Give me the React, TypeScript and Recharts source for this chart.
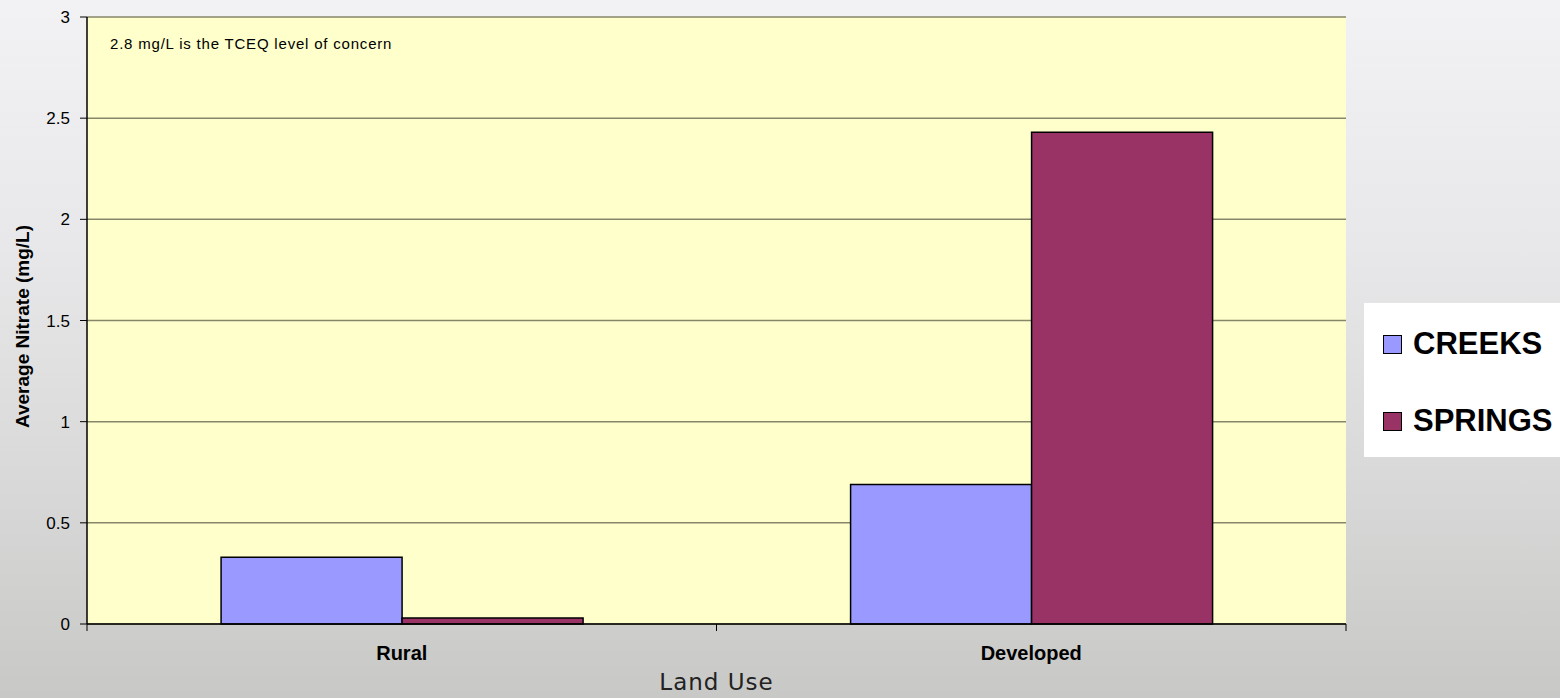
import React from 'react';
import { BarChart, Bar, XAxis, YAxis, CartesianGrid } from 'recharts';

const categories = ['Rural', 'Developed'];
const creeks = [0.33, 0.69];
const springs = [0.03, 2.43];
const yTicks = [0, 0.5, 1, 1.5, 2, 2.5, 3];
const seriesNames = ['CREEKS', 'SPRINGS'];
const seriesColors = ['#9999FF', '#993366'];
const note = '2.8 mg/L is the TCEQ level of concern';
const yTitle = 'Average Nitrate (mg/L)';
const xTitle = 'Land Use';

const data = categories.map((c, i) => ({ name: c, creeks: creeks[i], springs: springs[i] }));

const FONT = '"Liberation Sans", Arial, sans-serif';

const XTick = (props: any) => {
  const { x, y, payload, width, visibleTicksCount } = props;
  const off = payload && payload.offset ? payload.offset : width / ((visibleTicksCount || 1) * 2);
  return (
    <g>
      <line x1={x - off} x2={x - off} y1={y} y2={y + 7} stroke="#000" strokeWidth={1} />
      <line x1={x + off} x2={x + off} y1={y} y2={y + 7} stroke="#000" strokeWidth={1} />
      <text x={x} y={y + 36} textAnchor="middle" fontFamily={FONT} fontWeight="bold" fontSize={20} fill="#000">
        {payload.value}
      </text>
    </g>
  );
};

const YTitle = (props: any) => {
  const vb = props.viewBox || {};
  const cx = 22;
  const cy = (vb.y || 0) + (vb.height || 0) / 2 + 6;
  return (
    <text
      x={cx}
      y={cy}
      transform={`rotate(-90, ${cx}, ${cy})`}
      textAnchor="middle"
      dominantBaseline="central"
      fontFamily={FONT}
      fontWeight="bold"
      fontSize={19}
      fill="#000"
    >
      {yTitle}
    </text>
  );
};

const XTitle = (props: any) => {
  const vb = props.viewBox || {};
  const cx = (vb.x || 0) + (vb.width || 0) / 2;
  return (
    <text x={cx} y={690} textAnchor="middle" fontFamily='"DejaVu Sans", sans-serif' fontSize={23} letterSpacing={1} fill="#222">
      {xTitle}
    </text>
  );
};

export default function App() {
  return (
    <div
      style={{
        position: 'absolute',
        left: 0,
        top: 0,
        width: 1560,
        height: 698,
        background: 'linear-gradient(to bottom, #f2f2f4 0%, #e8e8ea 35%, #d8d8d8 70%, #c8c8c6 100%)',
        overflow: 'hidden',
      }}
    >
      <BarChart
        width={1560}
        height={698}
        data={data}
        margin={{ top: 17, right: 214, bottom: 0, left: 0 }}
        barCategoryGap="21.3%"
        barGap={0}
      >
        <CartesianGrid vertical={false} fill="#FFFFCC" stroke="#86866a" strokeWidth={1.5} />
        <XAxis
          dataKey="name"
          height={74}
          tick={<XTick />}
          tickLine={false}
          tickSize={0}
          tickMargin={0}
          axisLine={{ stroke: '#000', strokeWidth: 1.5 }}
          label={{ content: <XTitle /> }}
        />
        <YAxis
          domain={[0, 3]}
          ticks={yTicks}
          width={87}
          tickSize={7}
          tickMargin={10}
          tick={{ fontFamily: FONT, fontSize: 17, fill: '#000' }}
          tickLine={{ stroke: '#000' }}
          axisLine={{ stroke: '#000', strokeWidth: 1.5 }}
          label={{ content: <YTitle /> }}
        />
        <YAxis
          yAxisId="right"
          orientation="right"
          width={0}
          domain={[0, 3]}
          tick={false}
          tickLine={false}
          axisLine={{ stroke: '#888888', strokeWidth: 2 }}
        />
        <Bar dataKey="creeks" name={seriesNames[0]} fill={seriesColors[0]} stroke="#000" strokeWidth={1.5} isAnimationActive={false} />
        <Bar dataKey="springs" name={seriesNames[1]} fill={seriesColors[1]} stroke="#000" strokeWidth={1.5} isAnimationActive={false} />
      </BarChart>

      <div
        style={{
          position: 'absolute',
          left: 110,
          top: 35,
          fontFamily: FONT,
          fontSize: 15,
          letterSpacing: 0.8,
          color: '#000',
          whiteSpace: 'nowrap',
        }}
      >
        {note}
      </div>

      <div
        style={{
          position: 'absolute',
          left: 1364,
          top: 303,
          width: 196,
          height: 154,
          background: '#ffffff',
        }}
      >
        {seriesNames.map((n, i) => (
          <div key={n} style={{ position: 'absolute', left: 19, top: 30 + i * 77, height: 22, display: 'flex', alignItems: 'center' }}>
            <div
              style={{
                width: 19,
                height: 19,
                background: seriesColors[i],
                border: '1.5px solid #000',
                boxSizing: 'border-box',
                marginRight: 11,
              }}
            />
            <span style={{ fontFamily: FONT, fontWeight: 'bold', fontSize: 31, lineHeight: '22px', color: '#000' }}>{n}</span>
          </div>
        ))}
      </div>
    </div>
  );
}
